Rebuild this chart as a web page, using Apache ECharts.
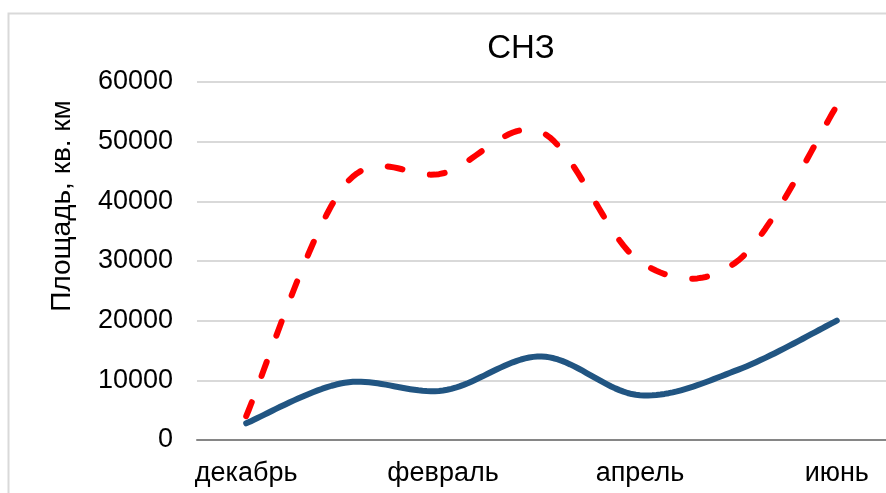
<!DOCTYPE html>
<html>
<head>
<meta charset="utf-8">
<script src="https://cdn.jsdelivr.net/npm/echarts@6/dist/echarts.min.js"></script>
<style>
  html, body { margin: 0; padding: 0; background: #fff; }
  #chart { width: 886px; height: 493px; }
</style>
</head>
<body>
<div id="chart"></div>
<script>
// месяцы
var months = ["декабрь", "январь", "февраль", "март", "апрель", "май", "июнь"];
// синяя линия
var blueValues = [2800, 9600, 8300, 14000, 7500, 11800, 20000];
// красная пунктирная линия
var redValues = [4000, 42700, 44700, 51600, 29900, 30100, 56000];
var yTicks = [0, 10000, 20000, 30000, 40000, 50000, 60000];

// сглаживание как в Excel (Catmull-Rom, контрольные точки на 1/6)
function smoothPath(pts) {
  var out = [pts[0]];
  for (var i = 0; i < pts.length - 1; i++) {
    var p0 = pts[i - 1] || pts[i];
    var p1 = pts[i];
    var p2 = pts[i + 1];
    var p3 = pts[i + 2] || pts[i + 1];
    var c1 = [p1[0] + (p2[0] - p0[0]) / 6, p1[1] + (p2[1] - p0[1]) / 6];
    var c2 = [p2[0] - (p3[0] - p1[0]) / 6, p2[1] - (p3[1] - p1[1]) / 6];
    for (var s = 1; s <= 24; s++) {
      var t = s / 24, u = 1 - t;
      out.push([
        u * u * u * p1[0] + 3 * u * u * t * c1[0] + 3 * u * t * t * c2[0] + t * t * t * p2[0],
        u * u * u * p1[1] + 3 * u * u * t * c1[1] + 3 * u * t * t * c2[1] + t * t * t * p2[1],
      ]);
    }
  }
  return out;
}

function lineSeries(name, values, style, z) {
  return {
    name: name,
    type: "custom",
    data: values.map(function (v, i) { return [i, v]; }),
    encode: { x: 0, y: 1 },
    z: z,
    renderItem: function (params, api) {
      if (params.dataIndex !== 0) return null;
      var pts = values.map(function (v, i) { return api.coord([i, v]); });
      return {
        type: "polyline",
        shape: { points: smoothPath(pts) },
        style: style,
      };
    },
  };
}

var myChart = echarts.init(document.getElementById("chart"));

var option = {
  animation: false,
  title: {
    text: "СНЗ",
    left: 516,
    top: 27,
    textAlign: "center",
    textStyle: {
      fontFamily: "Liberation Sans",
      fontSize: 33,
      fontWeight: "normal",
      color: "#000",
    },
  },
  graphic: [
    {
      type: "rect",
      shape: { x: 8.5, y: 13.5, width: 900, height: 500 },
      style: { fill: "none", stroke: "#d9d9d9", lineWidth: 2 },
      silent: true,
    },
    {
      type: "text",
      x: 62,
      y: 206,
      rotation: Math.PI / 2,
      style: {
        text: "Площадь, кв. км",
        fontFamily: "Liberation Sans",
        fontSize: 28,
        fill: "#000",
        align: "center",
        verticalAlign: "middle",
      },
    },
  ],
  grid: {
    left: 197,
    top: 82,
    bottom: 53,
    right: -8,
  },
  xAxis: {
    type: "category",
    data: months,
    boundaryGap: true,
    axisLine: { lineStyle: { color: "#868686", width: 2 } },
    axisTick: { interval: 0, length: 8, lineStyle: { color: "#868686", width: 2 } },
    axisLabel: {
      interval: 1,
      margin: 20,
      fontFamily: "Liberation Sans",
      fontSize: 27,
      color: "#000",
    },
    splitLine: { show: false },
  },
  yAxis: {
    type: "value",
    min: yTicks[0],
    max: yTicks[yTicks.length - 1],
    interval: 10000,
    axisLine: { show: false },
    axisTick: { show: false },
    axisLabel: {
      margin: 24,
      fontFamily: "Liberation Sans",
      fontSize: 27,
      color: "#000",
      formatter: function (v) { return String(v); },
    },
    splitLine: { lineStyle: { color: "#d9d9d9", width: 2 } },
  },
  series: [
    lineSeries("синяя", blueValues, {
      fill: "none", stroke: "#215582", lineWidth: 6, lineCap: "round", lineJoin: "round",
    }, 3),
    lineSeries("красная", redValues, {
      fill: "none", stroke: "#ff0000", lineWidth: 6, lineDash: [15, 28], lineCap: "round", lineJoin: "round",
    }, 4),
  ],
};

myChart.setOption(option);
</script>
</body>
</html>
